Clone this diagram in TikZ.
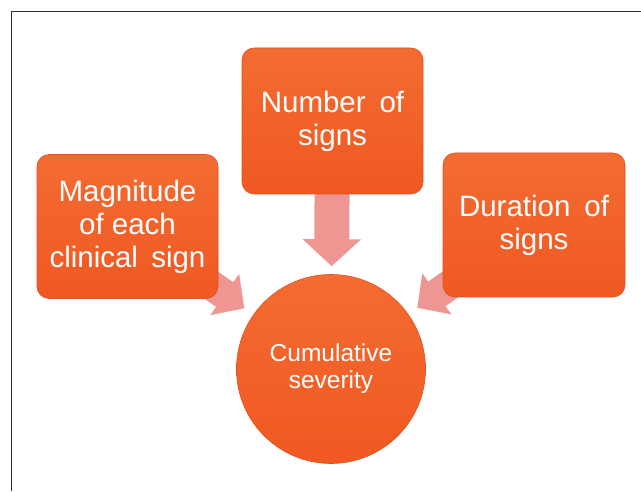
\documentclass[tikz,border=0pt]{standalone}
\usepackage{fontspec}
\setmainfont{Liberation Sans}
\usetikzlibrary{arrows.meta,backgrounds}
\definecolor{boxorange}{RGB}{240,88,34}
\definecolor{boxtop}{RGB}{243,108,50}
\definecolor{arrowpink}{RGB}{238,150,146}
\definecolor{framegray}{RGB}{45,45,45}
\tikzset{
  factor/.style={rectangle, rounded corners=12pt, minimum width=181pt,
    minimum height=144pt, inner sep=0pt, top color=boxtop,
    bottom color=boxorange, draw=boxorange!92!black, line width=0.6pt,
    text=white, align=center, font=\fontsize{29.5}{33}\selectfont},
  result/.style={circle, minimum size=189pt, inner sep=0pt,
    top color=boxtop, bottom color=boxorange, draw=boxorange!92!black,
    line width=0.6pt, text=white, align=center,
    font=\fontsize{24.5}{27}\selectfont},
  fatarrow/.style n args={3}{draw=arrowpink, fill=arrowpink,
    line width=#1, -{Triangle[width=#2,length=#3]}},
  framestyle/.style={draw=framegray, line width=1.3pt}
}
\begin{document}
\begin{tikzpicture}[x=1pt,y=1pt]
  \useasboundingbox (0,0) rectangle (641,491);
  \coordinate (fbl) at (11.5,0);
  \coordinate (ftl) at (11.5,479.5);
  \coordinate (ftr) at (641,479.5);
  \draw[framestyle] (fbl) -- (ftl) -- (ftr);

  \node[factor] (mag) at (127.5,264.5) {Magnitude\\of each\\clinical\hspace{0.45em}sign};
  \node[factor, minimum height=146pt] (num) at (332.5,370) {Number\hspace{0.47em}of\\signs};
  \node[factor, minimum width=182pt] (dur) at (534,266) {Duration\hspace{0.47em}of\\signs};
  \node[result] (cum) at (331,122) {Cumulative\\severity};

  \begin{pgfonlayer}{background}
    \draw[fatarrow={35pt}{57pt}{27pt}, shorten >=8pt] (num.center) -- (cum);
    \draw[fatarrow={30pt}{49pt}{24pt}, shorten >=11pt] (mag.center) -- (cum);
    \draw[fatarrow={30pt}{49pt}{24pt}, shorten >=11pt] (dur.center) -- (cum);
  \end{pgfonlayer}
\end{tikzpicture}
\end{document}
